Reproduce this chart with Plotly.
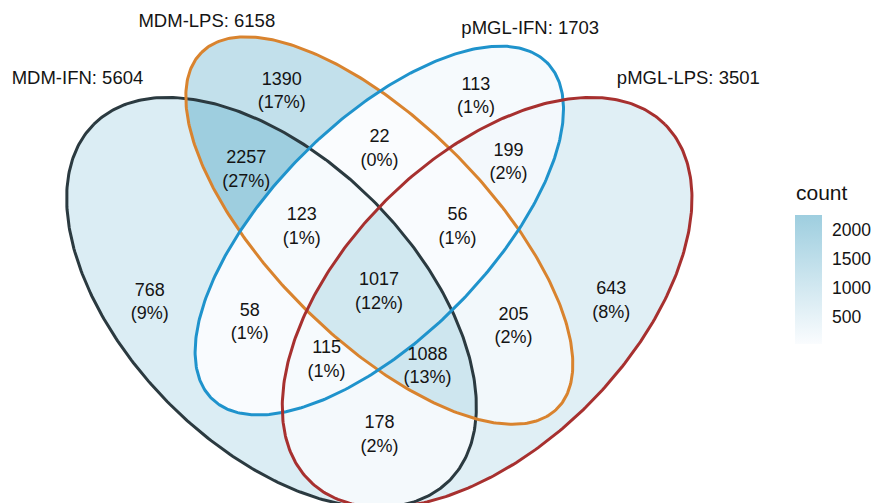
import numpy as np
import plotly.graph_objects as go

# ---- data -------------------------------------------------------------
set_names = ["MDM-IFN", "MDM-LPS", "pMGL-IFN", "pMGL-LPS"]

# each region is identified by the sets it belongs to (indices into set_names)
region_sets = [(0,), (1,), (2,), (3,),
               (0, 1), (0, 2), (0, 3), (1, 2), (1, 3), (2, 3),
               (0, 1, 2), (0, 1, 3), (0, 2, 3), (1, 2, 3),
               (0, 1, 2, 3)]
region_counts = [768, 1390, 113, 643,
                 2257, 58, 178, 22, 205, 199,
                 123, 1088, 115, 56,
                 1017]

# four-set ellipse layout: centre x, centre y, semi axes, rotation (deg)
ell_x = [0.35, 0.50, 0.50, 0.65]
ell_y = [0.47, 0.57, 0.57, 0.47]
ell_a = [0.35, 0.35, 0.33, 0.35]
ell_b = [0.20, 0.15, 0.15, 0.20]
ell_rot = [135, 135, 45, 45]
edge_colors = ["#2B3A40", "#D9832E", "#1F93CC", "#A7302F"]

# set-name label anchors of the layout
label_x = [0.08, 0.26, 0.71, 0.93]
label_y = [0.78, 0.86, 0.85, 0.78]

# ---- geometry ---------------------------------------------------------
S = 719.5                      # pixels per data unit
W, H = 871, 503
x_left = -20 / S
y_top = 0.839 + 37 / S
x_range = [x_left, x_left + W / S]
y_range = [y_top - H / S, y_top]


def inside(k, x, y):
    t = np.deg2rad(ell_rot[k])
    dx, dy = x - ell_x[k], y - ell_y[k]
    u = dx * np.cos(t) + dy * np.sin(t)
    v = -dx * np.sin(t) + dy * np.cos(t)
    return (u / ell_a[k]) ** 2 + (v / ell_b[k]) ** 2 <= 1.0


def outline(k, n=100):
    th = np.linspace(0, 2 * np.pi, n + 1)
    t = np.deg2rad(ell_rot[k])
    ex = ell_x[k] + ell_a[k] * np.cos(th) * np.cos(t) - ell_b[k] * np.sin(th) * np.sin(t)
    ey = ell_y[k] + ell_a[k] * np.cos(th) * np.sin(t) + ell_b[k] * np.sin(th) * np.cos(t)
    return ex, ey


# one raster cell per screen pixel (extended below the visible area so
# regions keep their full extent)
cols = np.arange(55, 705)
rows = np.arange(5, 530)
gx = x_left + (cols + 0.5) / S
gy = (y_top - (rows + 0.5) / S)[::-1]   # increasing y for the heatmap
X, Y = np.meshgrid(gx, gy)

member = np.stack([inside(k, X, Y) for k in range(4)])
code = sum((member[k].astype(int) << k) for k in range(4))

# crossing points of every pair of outlines
crossings = []
for k in range(4):
    fx, fy = outline(k, 40000)
    for j in range(k + 1, 4):
        s = inside(j, fx, fy).astype(int)
        for i in np.where(np.diff(s) != 0)[0]:
            crossings.append((fx[i], fy[i], k, j))


def region_vertex_y(sets):
    """y of the polygon vertices bounding a region (100-gon outlines)."""
    ys = []
    for k in range(4):
        ex, ey = outline(k, 100)
        ok = np.ones(ex.size, bool)
        for j in range(4):
            if j != k:
                ok &= inside(j, ex, ey) == (j in sets)
        ys.extend(ey[ok])
    for qx, qy, k, j in crossings:
        if all(bool(inside(l, qx, qy)) == (l in sets)
               for l in range(4) if l not in (k, j)):
            ys.append(qy)
    return np.array(ys)


def point_on_surface(m, sets):
    """Midpoint of the widest horizontal run on a safe mid-height scanline."""
    ys = region_vertex_y(sets)
    centre = 0.5 * (ys.min() + ys.max())
    lo = ys[ys <= centre].max()
    hi = ys[ys > centre].min()
    scan = 0.5 * (lo + hi)
    r = np.argmin(np.abs(gy - scan))
    line = np.concatenate([[0], m[r].astype(int), [0]])
    d = np.diff(line)
    starts, ends = np.where(d == 1)[0], np.where(d == -1)[0]
    j = np.argmax(ends - starts)
    return 0.5 * (gx[starts[j]] + gx[ends[j] - 1]), scan


Z = np.full(X.shape, np.nan)
cx, cy = [], []
for sets, cnt in zip(region_sets, region_counts):
    c = sum(1 << k for k in sets)
    m = code == c
    Z[m] = cnt
    px, py = point_on_surface(m, sets)
    cx.append(px)
    cy.append(py)

total = sum(region_counts)
set_totals = [sum(c for s, c in zip(region_sets, region_counts) if k in s)
              for k in range(4)]
region_text = [f"{c}<br>({round(100 * c / total)}%)" for c in region_counts]
set_text = [f"{n}: {t}" for n, t in zip(set_names, set_totals)]

z_list = [[None if np.isnan(v) else int(v) for v in row] for row in Z]

FONT = "Liberation Sans, Arial, Helvetica, sans-serif"
TXT = "#141414"

fig = go.Figure()

fig.add_trace(go.Heatmap(
    x=gx, y=gy, z=z_list, zsmooth=False,
    zmin=min(region_counts), zmax=max(region_counts),
    colorscale=[[0, "#FAFCFE"], [1, "#9ECEDF"]],
    hoverinfo="skip",
    colorbar=dict(
        x=795 / W, xanchor="left", xpad=0,
        y=1 - 279.5 / H, yanchor="middle", ypad=0,
        len=129 / H, lenmode="fraction",
        thickness=27, outlinewidth=0,
        tickvals=[500, 1000, 1500, 2000],
        ticks="outside", ticklen=7, tickcolor="rgba(0,0,0,0)",
        tickfont=dict(family=FONT, size=17.5, color=TXT),
    ),
))

for k in range(4):
    ex, ey = outline(k, 400)
    fig.add_trace(go.Scatter(x=ex, y=ey, mode="lines",
                             line=dict(color=edge_colors[k], width=3),
                             hoverinfo="skip"))

fig.add_trace(go.Scatter(x=cx, y=cy, mode="text", text=region_text,
                         textposition="middle center",
                         textfont=dict(family=FONT, size=18, color=TXT),
                         hoverinfo="skip"))

fig.add_trace(go.Scatter(x=label_x, y=label_y, mode="text", text=set_text,
                         textposition="middle center",
                         textfont=dict(family=FONT, size=18.5, color=TXT),
                         hoverinfo="skip"))

fig.add_annotation(text="count", xref="paper", yref="paper",
                   x=795 / W, y=1 - 192 / H, xanchor="left", yanchor="middle",
                   showarrow=False,
                   font=dict(family=FONT, size=21, color=TXT))

fig.update_layout(
    width=W, height=H, margin=dict(l=0, r=0, t=0, b=0),
    paper_bgcolor="white", plot_bgcolor="white",
    showlegend=False,
    xaxis=dict(range=x_range, visible=False, fixedrange=True),
    yaxis=dict(range=y_range, visible=False, fixedrange=True),
)

fig.write_html("out.html")
